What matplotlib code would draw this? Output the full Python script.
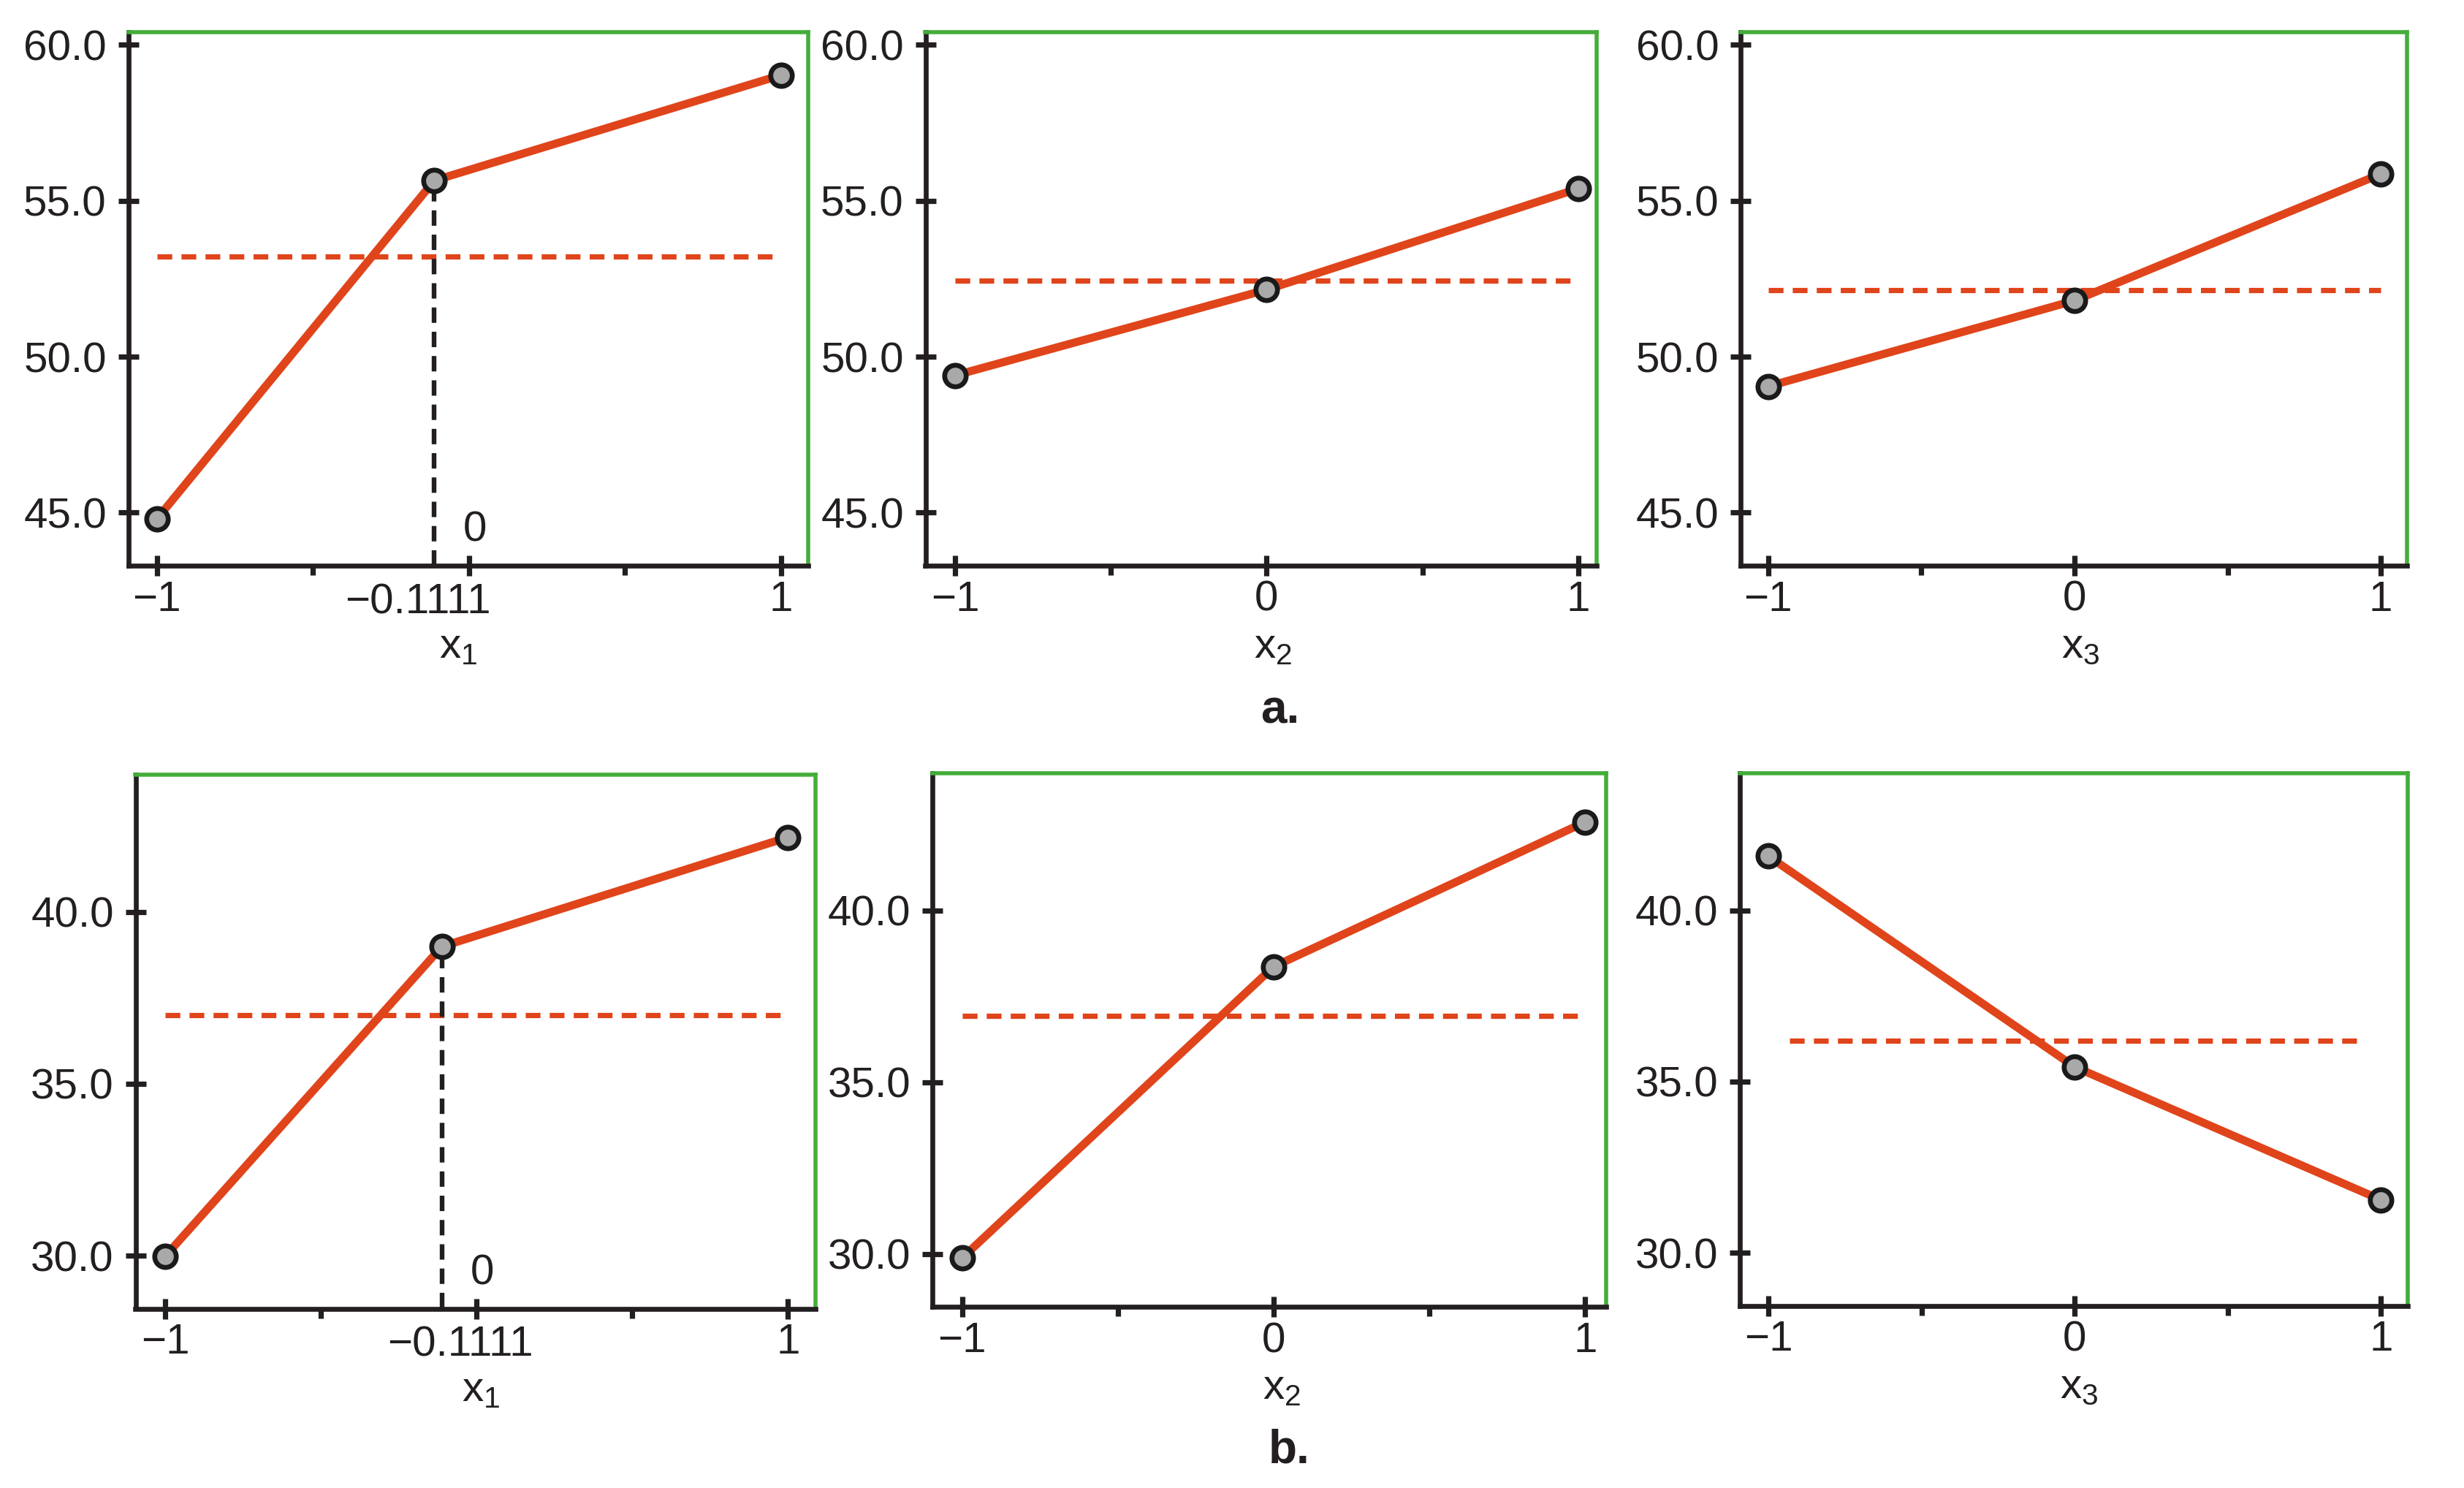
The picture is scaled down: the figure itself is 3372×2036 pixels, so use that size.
import matplotlib
matplotlib.use("Agg")
import matplotlib.pyplot as plt
import matplotlib.transforms as mtransforms

plt.rcParams['font.family'] = ['Liberation Sans', 'DejaVu Sans']
plt.rcParams['mathtext.fontset'] = 'custom'
plt.rcParams['mathtext.rm'] = 'Liberation Sans'
plt.rcParams['mathtext.it'] = 'Liberation Sans'
plt.rcParams['mathtext.default'] = 'regular'

# ---------------- data ----------------
x_levels = [-1, 0, 1]
x1_opt = -0.1111

# row a
a_x1 = [44.8, 55.65, 59.03]
a_x2 = [49.4, 52.15, 55.39]
a_x3 = [49.05, 51.8, 55.86]
a_means = [53.22, 52.45, 52.13]

# row b
b_x1 = [29.98, 38.99, 42.17]
b_x2 = [29.89, 38.37, 42.58]
b_x3 = [41.58, 35.43, 31.55]
b_means = [36.99, 36.93, 36.19]

a_yticks = [45.0, 50.0, 55.0, 60.0]
b_yticks = [30.0, 35.0, 40.0]
xlabels = ["x$_{1}$", "x$_{2}$", "x$_{3}$"]
row_labels = ["a.", "b."]

# ---------------- style ----------------
ORANGE = "#e0441b"
GREEN = "#43ad3a"
DARK = "#231f20"
GRAY = "#a9a9a9"

W, H = 3372, 2036
DPI = 200
fig = plt.figure(figsize=(W / DPI, H / DPI), dpi=DPI)

def px_rect(l, r, t, b):
    return [l / W, 1 - b / H, (r - l) / W, (b - t) / H]

rects = [
    px_rect(175.5, 1106, 44.3, 774),
    px_rect(1266.5, 2185.4, 44.3, 774),
    px_rect(2382, 3294.2, 44.3, 774),
    px_rect(185.5, 1116.2, 1059.5, 1790.5),
    px_rect(1276, 2197.9, 1058, 1788.3),
    px_rect(2381, 3295, 1058, 1786.5),
]
xlims = [(-1.092, 1.087), (-1.095, 1.06), (-1.09, 1.086),
         (-1.095, 1.089), (-1.096, 1.067), (-1.093, 1.0875)]
ylims = [(43.3, 60.4), (28.46, 44.0)]

series = [a_x1, a_x2, a_x3, b_x1, b_x2, b_x3]
means = a_means + b_means
mean_spans = [(-1, 1), (-1, 1), (-1, 1), (-1, 1), (-1, 1), (-0.93, 0.92)]
opt_label_x = [-0.164, None, None, -0.051, None, None]
xlabel_x = [-0.035, 0.02, 0.02, 0.015, 0.025, 0.015]

for i in range(6):
    ax = fig.add_axes(rects[i])
    row = i // 3
    col = i % 3
    ys = series[i]
    xs = [x1_opt if (col == 0 and k == 1) else x_levels[k] for k in range(3)]
    ylo, yhi = ylims[row]

    # mean line
    ax.plot(mean_spans[i], [means[i], means[i]], color=ORANGE, lw=2.6,
            linestyle=(0, (2.8, 1.75)), zorder=2)
    # vertical dashed for optimum
    if col == 0:
        ax.plot([x1_opt, x1_opt], [ylo, ys[1]], color=DARK, lw=2.3,
                linestyle=(0, (3.3, 1.9)), zorder=2)
    ax.plot(xs, ys, color=ORANGE, lw=4.0, zorder=3)
    ax.plot(xs, ys, linestyle='none', marker='o', ms=10.6, mfc=GRAY,
            mec="#1a1a1a", mew=2.4, zorder=4)

    ax.set_xlim(*xlims[i])
    ax.set_ylim(ylo, yhi)
    yt = a_yticks if row == 0 else b_yticks
    ax.set_yticks(yt)
    ax.set_yticklabels([f"{v:.1f}" for v in yt])

    ax.set_xticks(x_levels)
    if col == 0:
        ax.set_xticklabels(["\u22121", "", "1"])
    else:
        ax.set_xticklabels(["\u22121", "0", "1"])
    ax.set_xticks([-0.5, 0.5], minor=True)

    for s in ["left", "bottom"]:
        ax.spines[s].set_color(DARK)
        ax.spines[s].set_linewidth(2.4)
    for s in ["top", "right"]:
        ax.spines[s].set_color(GREEN)
        ax.spines[s].set_linewidth(2.0)

    ax.tick_params(axis='y', which='major', direction='inout', length=10.4,
                   width=2.6, color=DARK, labelsize=21, labelcolor=DARK, pad=5.5)
    ax.tick_params(axis='x', which='major', direction='inout', length=10.4,
                   width=2.6, color=DARK, labelsize=21, labelcolor=DARK, pad=2.0)
    ax.tick_params(axis='x', which='minor', direction='out', length=4.7,
                   width=2.6, color=DARK)

    trans = mtransforms.blended_transform_factory(ax.transData, ax.transAxes)
    ax_h_px = rects[i][3] * H
    ax.set_xlabel(xlabels[col], fontsize=21, color=DARK)
    ax.xaxis.set_label_coords(xlabel_x[i], -84 / ax_h_px, transform=trans)
    ax.xaxis.label.set_va('top')

    if col == 0:
        ax.text(opt_label_x[i], -23 / ax_h_px, "\u22120.1111", transform=trans,
                ha='center', va='top', fontsize=21, color=DARK)
        ax.annotate("0", xy=(0.0, ylo), xytext=(2.9, 11.9),
                    textcoords='offset points', ha='center', va='baseline',
                    fontsize=21, color=DARK)

fig.text(1752 / W, 1 - 990 / H, row_labels[0], ha='center', va='baseline',
         fontsize=23, fontweight='bold', color=DARK)
fig.text(1764 / W, 1 - 2001 / H, row_labels[1], ha='center', va='baseline',
         fontsize=23, fontweight='bold', color=DARK)

fig.savefig("out.png", dpi=DPI, facecolor='white')
